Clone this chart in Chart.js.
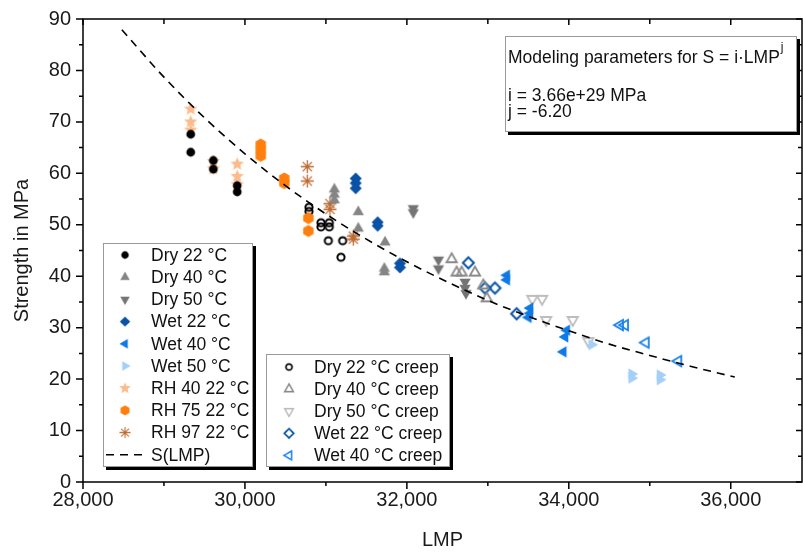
<!DOCTYPE html>
<html>
<head>
<meta charset="utf-8">
<script src="https://cdn.jsdelivr.net/npm/chart.js@4.4.0/dist/chart.umd.min.js"></script>
<style>
html, body { margin: 0; padding: 0; background: #fff; }
#wrap { width: 803px; height: 552px; }
</style>
</head>
<body>
<div id="wrap"><canvas id="c" width="803" height="552"></canvas></div>
<script>
// --- data ---
const dry22Lmp = [29330, 29330, 29610, 29610, 29905, 29905];
const dry22S   = [67.6, 64.1, 62.5, 60.8, 57.6, 56.4];

const dry40Lmp = [31104, 31104, 31104, 31400, 31400, 31730, 31722, 31722];
const dry40S   = [56.9, 55.9, 54.8, 52.5, 49.3, 46.6, 41.5, 40.8];

const dry50Lmp = [32079, 32079, 32390, 32390, 32718, 32718, 32730];
const dry50S   = [53.2, 52.4, 43.2, 41.5, 38.9, 37.7, 36.7];

const wet22Lmp = [31368, 31368, 31368, 31639, 31639, 31915, 31915];
const wet22S   = [59.0, 58.1, 57.1, 50.5, 49.8, 42.5, 41.7];

const wet40Lmp = [33233, 33233, 33520, 33520, 33500, 33974, 33953, 33932];
const wet40S   = [40.2, 39.3, 33.8, 32.8, 32.0, 29.5, 28.2, 25.3];

const wet50Lmp = [34282, 34776, 34776, 35126, 35126];
const wet50S   = [26.7, 21.0, 20.2, 20.8, 19.9];

const rh40Lmp = [29330, 29330, 29330, 29610, 29610, 29905, 29905, 29905];
const rh40S   = [72.5, 70.0, 68.4, 62.3, 60.9, 61.8, 59.4, 57.8];

const rh75Lmp = [30195, 30195, 30195, 30486, 30486, 30783, 30783];
const rh75S   = [65.6, 64.5, 63.4, 59.0, 58.1, 51.3, 48.8];

const rh97Lmp = [30770, 30770, 31050, 31050, 31338, 31338];
const rh97S   = [61.3, 58.5, 54.1, 53.0, 47.8, 47.2];

const dry22cLmp = [30791, 30791, 30939, 30939, 31042, 31042, 31030, 31207, 31186];
const dry22cS   = [53.4, 52.6, 50.4, 49.6, 50.4, 49.6, 46.9, 46.9, 43.7];

const dry40cLmp = [32553, 32614, 32676, 32841, 32944, 32986];
const dry40cS   = [43.3, 40.7, 40.7, 40.7, 38.2, 35.7];

const dry50cLmp = [33550, 33670, 33720, 34048, 34241];
const dry50cS   = [35.6, 35.6, 31.5, 31.5, 27.4];

const wet22cLmp = [32759, 32965, 33088, 33356];
const wet22cS   = [42.6, 37.7, 37.7, 32.7];

const wet40cLmp = [34632, 34694, 34950, 35352];
const wet40cS   = [30.5, 30.5, 27.1, 23.5];

// S(LMP) fit curve
const fitLmp = [28480, 29000, 29500, 30000, 30500, 31000, 31500, 32000, 32500, 33000, 33500, 34000, 34500, 35000, 35500, 36050];
const fitS   = [87.9, 78.7, 70.8, 63.8, 57.6, 52.1, 47.2, 42.8, 38.9, 35.3, 32.2, 29.4, 26.8, 24.6, 22.5, 20.4];

const xMajorTicks = [28000, 30000, 32000, 34000, 36000];
const xMinorTicks = [29000, 31000, 33000, 35000];
const yMajorTicks = [0, 10, 20, 30, 40, 50, 60, 70, 80, 90];
const yMinorTicks = [5, 15, 25, 35, 45, 55, 65, 75, 85];

const FONT = '"Liberation Sans", Arial, sans-serif';

// --- marker images ---
function polyPath(g, c, radii, start) {
    const n = radii.length;
    for (let i = 0; i < n; i++) {
        const a = start + i * 2 * Math.PI / n;
        const px = c + Math.cos(a) * radii[i];
        const py = c + Math.sin(a) * radii[i];
        if (i === 0) g.moveTo(px, py); else g.lineTo(px, py);
    }
    g.closePath();
}

function marker(shape, o) {
    const r = o.r, lw = o.lw || 1;
    const size = Math.ceil(2 * r + lw + 4);
    const cv = document.createElement('canvas');
    cv.width = cv.height = size;
    const g = cv.getContext('2d');
    const c = size / 2;
    g.beginPath();
    const deg = Math.PI / 180;
    switch (shape) {
        case 'circle': g.arc(c, c, r, 0, 2 * Math.PI); break;
        case 'up': polyPath(g, c, [r, r, r], -90 * deg); break;
        case 'down': polyPath(g, c, [r, r, r], 90 * deg); break;
        case 'left': polyPath(g, c, [r, r, r], 180 * deg); break;
        case 'right': polyPath(g, c, [r, r, r], 0); break;
        case 'diamond': polyPath(g, c, [r, r, r, r], -90 * deg); break;
        case 'hex': polyPath(g, c, [r, r, r, r, r, r], -90 * deg); break;
        case 'star': {
            const rr = [];
            for (let i = 0; i < 10; i++) rr.push(i % 2 ? r * 0.45 : r);
            polyPath(g, c, rr, -90 * deg);
            break;
        }
        case 'asterisk':
            for (let i = 0; i < 4; i++) {
                const a = i * 45 * deg;
                g.moveTo(c - Math.cos(a) * r, c - Math.sin(a) * r);
                g.lineTo(c + Math.cos(a) * r, c + Math.sin(a) * r);
            }
            break;
    }
    if (o.fill) { g.fillStyle = o.fill; g.fill(); }
    if (o.stroke) { g.strokeStyle = o.stroke; g.lineWidth = lw; g.lineJoin = 'miter'; g.stroke(); }
    return cv;
}

const series = [
    { label: 'Dry 22 °C', x: dry22Lmp, y: dry22S, img: marker('circle', { r: 4.4, fill: '#000' }), box: 1 },
    { label: 'Dry 40 °C', x: dry40Lmp, y: dry40S, img: marker('up', { r: 6.5, fill: '#858585' }), box: 1 },
    { label: 'Dry 50 °C', x: dry50Lmp, y: dry50S, img: marker('down', { r: 6.5, fill: '#747474' }), box: 1 },
    { label: 'Wet 22 °C', x: wet22Lmp, y: wet22S, img: marker('diamond', { r: 6, fill: '#0a52a5' }), box: 1 },
    { label: 'Wet 40 °C', x: wet40Lmp, y: wet40S, img: marker('left', { r: 6.5, fill: '#0f7ae5' }), box: 1 },
    { label: 'Wet 50 °C', x: wet50Lmp, y: wet50S, img: marker('right', { r: 6.5, fill: '#a3cff8' }), box: 1 },
    { label: 'RH 40 22 °C', x: rh40Lmp, y: rh40S, img: marker('star', { r: 7, fill: '#fdbb8c' }), box: 1 },
    { label: 'RH 75 22 °C', x: rh75Lmp, y: rh75S, img: marker('hex', { r: 6, fill: '#ff7f0e' }), box: 1 },
    { label: 'RH 97 22 °C', x: rh97Lmp, y: rh97S, img: marker('asterisk', { r: 6.5, stroke: '#bb6a30', lw: 1.3 }), box: 1 },
    { label: 'Dry 22 °C creep', x: dry22cLmp, y: dry22cS, img: marker('circle', { r: 3.6, stroke: '#000', lw: 2 }), box: 2 },
    { label: 'Dry 40 °C creep', x: dry40cLmp, y: dry40cS, img: marker('up', { r: 6, stroke: '#8a8a8a', lw: 1.8 }), box: 2 },
    { label: 'Dry 50 °C creep', x: dry50cLmp, y: dry50cS, img: marker('down', { r: 6, stroke: '#bdbdbd', lw: 1.8 }), box: 2 },
    { label: 'Wet 22 °C creep', x: wet22cLmp, y: wet22cS, img: marker('diamond', { r: 5.5, stroke: '#0a55a8', lw: 2 }), box: 2 },
    { label: 'Wet 40 °C creep', x: wet40cLmp, y: wet40cS, img: marker('left', { r: 6, stroke: '#1782ea', lw: 1.8 }), box: 2 }
];

const datasets = series.map((s, i) => ({
    type: 'scatter',
    label: s.label,
    data: s.x.map((v, k) => ({ x: v, y: s.y[k] })),
    pointStyle: s.img,
    pointRadius: 6,
    order: i + 1
}));

datasets.push({
    type: 'line',
    label: 'S(LMP)',
    data: fitLmp.map((v, k) => ({ x: v, y: fitS[k] })),
    borderColor: '#000',
    borderWidth: 1.6,
    borderDash: [8, 6],
    pointRadius: 0,
    cubicInterpolationMode: 'monotone',
    fill: false,
    order: 0
});

// --- frame, ticks, legends, text box ---
function shadowBox(ctx, x, y, w, h) {
    ctx.fillStyle = '#000';
    ctx.fillRect(x + 3, y + 3, w, h);
    ctx.fillStyle = '#fff';
    ctx.fillRect(x, y, w, h);
    ctx.strokeStyle = '#9a9a9a';
    ctx.lineWidth = 1;
    ctx.strokeRect(x + 0.5, y + 0.5, w - 1, h - 1);
}

const decor = {
    id: 'decor',
    afterDraw(chart) {
        const ctx = chart.ctx;
        const a = chart.chartArea;
        const xs = chart.scales.x, ys = chart.scales.y;
        ctx.save();

        // axes frame
        ctx.strokeStyle = '#000';
        ctx.lineWidth = 1.5;
        ctx.strokeRect(a.left, a.top, a.right - a.left, a.bottom - a.top);
        ctx.beginPath();
        xMajorTicks.forEach(v => {
            const px = xs.getPixelForValue(v);
            ctx.moveTo(px, a.bottom); ctx.lineTo(px, a.bottom + 7);
            ctx.moveTo(px, a.top); ctx.lineTo(px, a.top + 6);
        });
        xMinorTicks.forEach(v => {
            const px = xs.getPixelForValue(v);
            ctx.moveTo(px, a.bottom); ctx.lineTo(px, a.bottom + 4);
            ctx.moveTo(px, a.top); ctx.lineTo(px, a.top + 5);
        });
        yMajorTicks.forEach(v => {
            const py = ys.getPixelForValue(v);
            ctx.moveTo(a.left, py); ctx.lineTo(a.left - 7, py);
            ctx.moveTo(a.right, py); ctx.lineTo(a.right - 6, py);
        });
        yMinorTicks.forEach(v => {
            const py = ys.getPixelForValue(v);
            ctx.moveTo(a.left, py); ctx.lineTo(a.left - 4, py);
            ctx.moveTo(a.right, py); ctx.lineTo(a.right - 4, py);
        });
        ctx.stroke();

        // legend boxes
        ctx.font = '17.5px ' + FONT;
        ctx.textBaseline = 'middle';
        shadowBox(ctx, 103, 243, 150, 224);
        shadowBox(ctx, 266, 354, 184, 113);
        let i1 = 0, i2 = 0;
        series.forEach(s => {
            let mx, tx, y;
            if (s.box === 1) { mx = 125; tx = 151; y = 255 + 22.2 * i1++; }
            else { mx = 289; tx = 314; y = 367 + 22.1 * i2++; }
            const w = s.img.width * 0.85;
            ctx.drawImage(s.img, mx - w / 2, y - w / 2, w, w);
            ctx.fillStyle = '#111';
            ctx.fillText(s.label, tx, y + 1);
        });
        // S(LMP) legend line
        const ly = 255 + 22.2 * 9;
        ctx.strokeStyle = '#000';
        ctx.lineWidth = 1.6;
        ctx.setLineDash([8, 6]);
        ctx.beginPath();
        ctx.moveTo(106, ly); ctx.lineTo(148, ly);
        ctx.stroke();
        ctx.setLineDash([]);
        ctx.fillStyle = '#111';
        ctx.fillText('S(LMP)', 151, ly + 1);

        // model parameter box
        shadowBox(ctx, 505, 36, 292, 96);
        ctx.fillStyle = '#111';
        ctx.font = '17.5px ' + FONT;
        const t1 = 'Modeling parameters for S = i·LMP';
        ctx.fillText(t1, 508, 58);
        const w1 = ctx.measureText(t1).width;
        ctx.font = '12px ' + FONT;
        ctx.fillText('j', 508 + w1 + 1, 48);
        ctx.font = '17.5px ' + FONT;
        ctx.fillText('i = 3.66e+29 MPa', 508, 96);
        ctx.fillText('j = -6.20', 508, 112);

        ctx.restore();
    }
};

new Chart(document.getElementById('c').getContext('2d'), {
    data: { datasets: datasets },
    options: {
        responsive: false,
        animation: false,
        layout: { autoPadding: false, padding: { left: 0, right: 1, top: 19, bottom: 0 } },
        plugins: { legend: { display: false }, tooltip: { enabled: false } },
        scales: {
            x: {
                type: 'linear',
                min: 28000,
                max: 36880,
                grid: { display: false, drawTicks: false },
                border: { display: false },
                afterBuildTicks: scale => {
                    scale.ticks = xMajorTicks.map(v => ({ value: v }));
                },
                afterFit: scale => {
                    scale.height = 70;
                    scale.paddingLeft = 0;
                    scale.paddingRight = 0;
                },
                ticks: {
                    autoSkip: false,
                    maxRotation: 0,
                    padding: 6,
                    color: '#1a1a1a',
                    font: { family: FONT, size: 20 },
                    callback: v => v.toLocaleString('en-US')
                },
                title: {
                    display: true,
                    text: 'LMP',
                    color: '#1a1a1a',
                    font: { family: FONT, size: 20 },
                    padding: { top: 0, bottom: 0 }
                }
            },
            y: {
                type: 'linear',
                min: 0,
                max: 90,
                grid: { display: false, drawTicks: false },
                border: { display: false },
                afterBuildTicks: scale => {
                    scale.ticks = yMajorTicks.map(v => ({ value: v }));
                },
                afterFit: scale => {
                    scale.width = 83;
                    scale.paddingTop = 0;
                    scale.paddingBottom = 0;
                },
                ticks: {
                    padding: 12,
                    color: '#1a1a1a',
                    font: { family: FONT, size: 20 }
                },
                title: {
                    display: true,
                    text: 'Strength in MPa',
                    color: '#1a1a1a',
                    font: { family: FONT, size: 20 },
                    padding: { top: 10, bottom: 0 }
                }
            }
        }
    },
    plugins: [decor]
});
</script>
</body>
</html>
